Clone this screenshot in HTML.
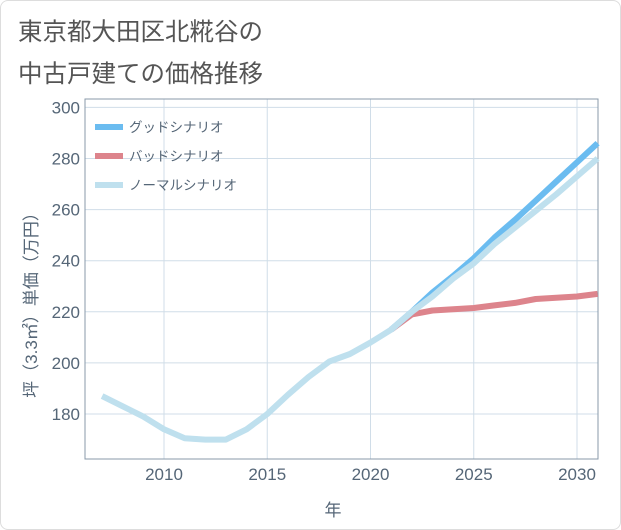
<!DOCTYPE html>
<html><head><meta charset="utf-8"><style>
body{margin:0;background:#fff;font-family:"Liberation Sans","Noto Sans CJK JP",sans-serif;}
#wrap{position:relative;width:619px;height:528px;border:1px solid #ddd;border-radius:8px;overflow:hidden}
</style></head><body>
<div id="wrap">
<svg id="c" width="621" height="530"></svg>
</div>
<script>
const years=[2007,2008,2009,2010,2011,2012,2013,2014,2015,2016,2017,2018,2019,2020,2021,2022,2023,2024,2025,2026,2027,2028,2029,2030,2031];
const normal=[187,183,179,174,170.5,170,170,174,180,187.5,194.5,200.5,203.5,208,213,220,226,233,239,246.5,253,259.5,266,273,280];
const goodYears=[2021,2022,2023,2024,2025,2026,2027,2028,2029,2030,2031];
const good=[213,220,227.5,234,241,249,256,263.5,271,278.5,286];
const bad=[213,219,220.5,221,221.5,222.5,223.5,225,225.5,226,227];
const yTicks=[180,200,220,240,260,280,300];
const xTicks=[2010,2015,2020,2025,2030];
const L=84,R=597,T=98,B=458;
const X=v=>163+(v-2010)*20.65;
const Y=v=>413-(v-180)*2.555;
const NS="http://www.w3.org/2000/svg";
const svg=document.getElementById('c');
function mk(t,a,p){const e=document.createElementNS(NS,t);for(const k in a)e.setAttribute(k,a[k]);(p||svg).appendChild(e);return e;}
let e;
e=mk('text',{x:17,y:39,'font-size':24.5,fill:'#555'});e.textContent='東京都大田区北糀谷の';


e=mk('text',{x:17,y:81,'font-size':24.5,fill:'#555'});e.textContent='中古戸建ての価格推移';


yTicks.forEach(v=>{
 e=mk('line',{x1:L,x2:R,y1:Y(v),y2:Y(v),stroke:'#d0dde8','stroke-width':1});
 
 
 e=mk('text',{x:79,y:Y(v)+6,'font-size':17,fill:'#556677','text-anchor':'end'});e.textContent=v;
 
 
});
xTicks.forEach(v=>{
 e=mk('line',{x1:X(v),x2:X(v),y1:T,y2:B,stroke:'#d0dde8','stroke-width':1});
 
 
 e=mk('text',{x:X(v),y:479,'font-size':17,fill:'#556677','text-anchor':'middle'});e.textContent=v;
 
 
});
e=mk('rect',{x:L,y:T,width:R-L,height:B-T,fill:'none',stroke:'#8899aa','stroke-width':1});


function line(xs,ys,col,name){
 const d=xs.map((x,i)=>(i?'L':'M')+X(x).toFixed(1)+','+Y(ys[i]).toFixed(1)).join('');
 const p=mk('path',{d:d,fill:'none',stroke:col,'stroke-width':6,'stroke-linejoin':'round'});
 
 
}
line(goodYears,bad,'#dd848c','bad-scenario-line');
line(goodYears,good,'#6bbcf0','good-scenario-line');
line(years,normal,'#bfe0ee','normal-scenario-line');
const leg=[['グッドシナリオ','#6bbcf0'],['バッドシナリオ','#dd848c'],['ノーマルシナリオ','#bfe0ee']];
leg.forEach((l,i)=>{
 const y=126+i*29;
 e=mk('line',{x1:94,x2:122,y1:y,y2:y,stroke:l[1],'stroke-width':6});
 
 
 e=mk('text',{x:128,y:y+5,'font-size':13.5,fill:'#556677'});e.textContent=l[0];
 
 
});
e=mk('text',{x:332,y:515,'font-size':17,fill:'#556677','text-anchor':'middle'});e.textContent='年';


e=mk('text',{x:0,y:0,'font-size':17,fill:'#556677','text-anchor':'middle',transform:'translate(36,300) rotate(-90)'});e.textContent='坪（3.3㎡）単価（万円）';


</script>
</body></html>
